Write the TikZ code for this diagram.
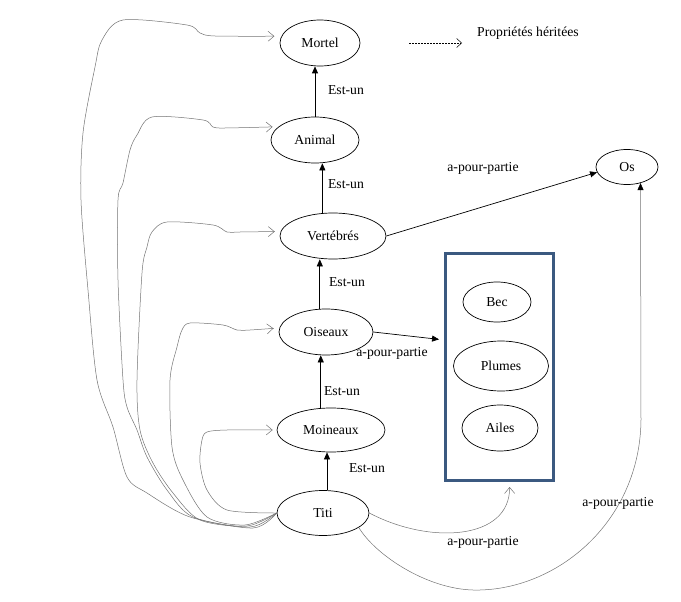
\documentclass[tikz,border=0pt]{standalone}
\usepackage{fontspec}
\setmainfont{LiberationSerif}[Extension=.ttf, UprightFont=*-Regular, BoldFont=*-Bold]
\usetikzlibrary{arrows.meta, shapes.geometric, positioning}
\definecolor{BoxBlue}{RGB}{59,89,128}

\begin{document}
\begin{tikzpicture}[x=1pt, y=-1pt, font=\rmfamily\fontsize{13.7}{16}\selectfont,
	ent/.style={ellipse, draw, line width=0.7pt, inner sep=0pt, minimum height=46pt},
	isa/.style={-{Triangle[length=7pt, width=6pt]}, line width=0.7pt},
	inh/.style={-{Straight Barb[length=6pt, width=10pt]}, black!55, line width=0.5pt},
	lbl/.style={inner sep=1pt}]
	\useasboundingbox (0,0) rectangle (681,602);

	% hiérarchie
	\node[ent, minimum width=80pt] (mortel) at (320,43) {Mortel};
	\node[ent, minimum width=88pt] (animal) at (315,140) {Animal};
	\node[ent, minimum width=106pt] (vertebres) at (333,236) {Vertébrés};
	\node[ent, minimum width=94pt] (oiseaux) at (326,332) {Oiseaux};
	\node[ent, minimum width=108pt, minimum height=44pt] (moineaux) at (331,430) {Moineaux};
	\node[ent, minimum width=92pt, minimum height=45pt] (titi) at (323,513) {Titi};
	\node[ent, minimum width=62pt, minimum height=35pt] (os) at (627,167) {Os};

	% parties
	\node[draw=BoxBlue, line width=3pt, minimum width=108pt, minimum height=227pt] (parts) at (499.5,367) {};
	\node[ent, minimum width=68pt, minimum height=40pt] (bec) at (497,302) {Bec};
	\node[ent, minimum width=95pt, minimum height=50pt] (plumes) at (501,366) {Plumes};
	\node[ent, minimum width=76pt, minimum height=46pt] (ailes) at (500,428) {Ailes};

	% légende
	\coordinate (lgA) at (409,43);
	\coordinate (lgB) at (462,43);
	\draw[-{Straight Barb[length=5pt, width=9pt]}, dash pattern=on 2pt off 1pt, line width=0.5pt] (lgA) -- (lgB);
	\node (legende) at (528,33) {Propriétés héritées};

	% est-un
	\draw[isa] (animal.north) -- (animal.north |- mortel.south);
	\draw[isa] (vertebres.115) -- (vertebres.115 |- animal.south);
	\draw[isa] (oiseaux.105) -- (oiseaux.105 |- vertebres.south);
	\draw[isa] (moineaux.115) -- (moineaux.115 |- oiseaux.south);
	\draw[isa] (titi.80) -- (titi.80 |- moineaux.south);
	\node[lbl] (e1) at (346,90) {Est-un};
	\node[lbl] (e2) at (346,184) {Est-un};
	\node[lbl] (e3) at (347,282) {Est-un};
	\node[lbl] (e4) at (342,391) {Est-un};
	\node[lbl] (e5) at (367,468) {Est-un};

	% a-pour-partie
	\draw[isa] (vertebres.east) -- (os.190);
	\node[lbl] (p1) at (483,168) {a-pour-partie};
	\draw[isa, shorten >=5pt] (oiseaux.east) -- (parts.154);
	\node[lbl] (p2) at (392,353) {a-pour-partie};
	\draw[inh, shorten >=5pt] (titi.east) .. controls (430,545) and (510,540) .. (parts.-85);
	\node[lbl] (p3) at (483,542) {a-pour-partie};
	\draw[black!55, line width=0.5pt, -{Triangle[length=7pt, width=6pt, black]}] (titi.-22)
		.. controls (375,555) and (430,592) .. (480,590)
		.. controls (560,588) and (640,520) .. (641,420) -- (os.-50);
	\node[lbl] (p4) at (618,503) {a-pour-partie};

	% propriétés héritées (de Titi vers chaque ancêtre)
	\draw[inh, shorten >=7pt] plot[smooth, tension=0.5] coordinates {(titi.west) (253,528) (190,517) (147,493)
		(127,477) (113,427) (97,380) (88,290) (81,200) (83,133) (95,67) (102,40) (123,20) (187,25) (200,33)
		(215,36) (mortel.170)};
	\draw[inh, shorten >=6pt] plot[smooth, tension=0.5] coordinates {(titi.west) (250,527) (193,517) (167,490)
		(147,457) (137,430) (127,407) (123,380) (118,280) (118,200) (123,183) (130,150) (137,135) (152,117)
		(203,120) (213,127) (225,128) (animal.160)};
	\draw[inh, shorten >=6pt] plot[smooth, tension=0.5] coordinates {(titi.west) (247,526) (200,520) (173,493)
		(153,463) (140,430) (137,380) (142,273) (147,247) (152,232) (167,222) (213,225) (227,232) (240,232)
		(vertebres.175)};
	\draw[inh, shorten >=6pt] plot[smooth, tension=0.5] coordinates {(titi.west) (245,525) (207,517) (183,480)
		(172,447) (170,380) (177,347) (182,330) (190,323) (223,325) (237,330) (250,330) (oiseaux.175)};
	\draw[inh, shorten >=4pt] plot[smooth, tension=0.5] coordinates {(titi.west) (227,510) (207,490) (200,463)
		(202,440) (207,432) (227,430) (moineaux.west)};
\end{tikzpicture}
\end{document}
